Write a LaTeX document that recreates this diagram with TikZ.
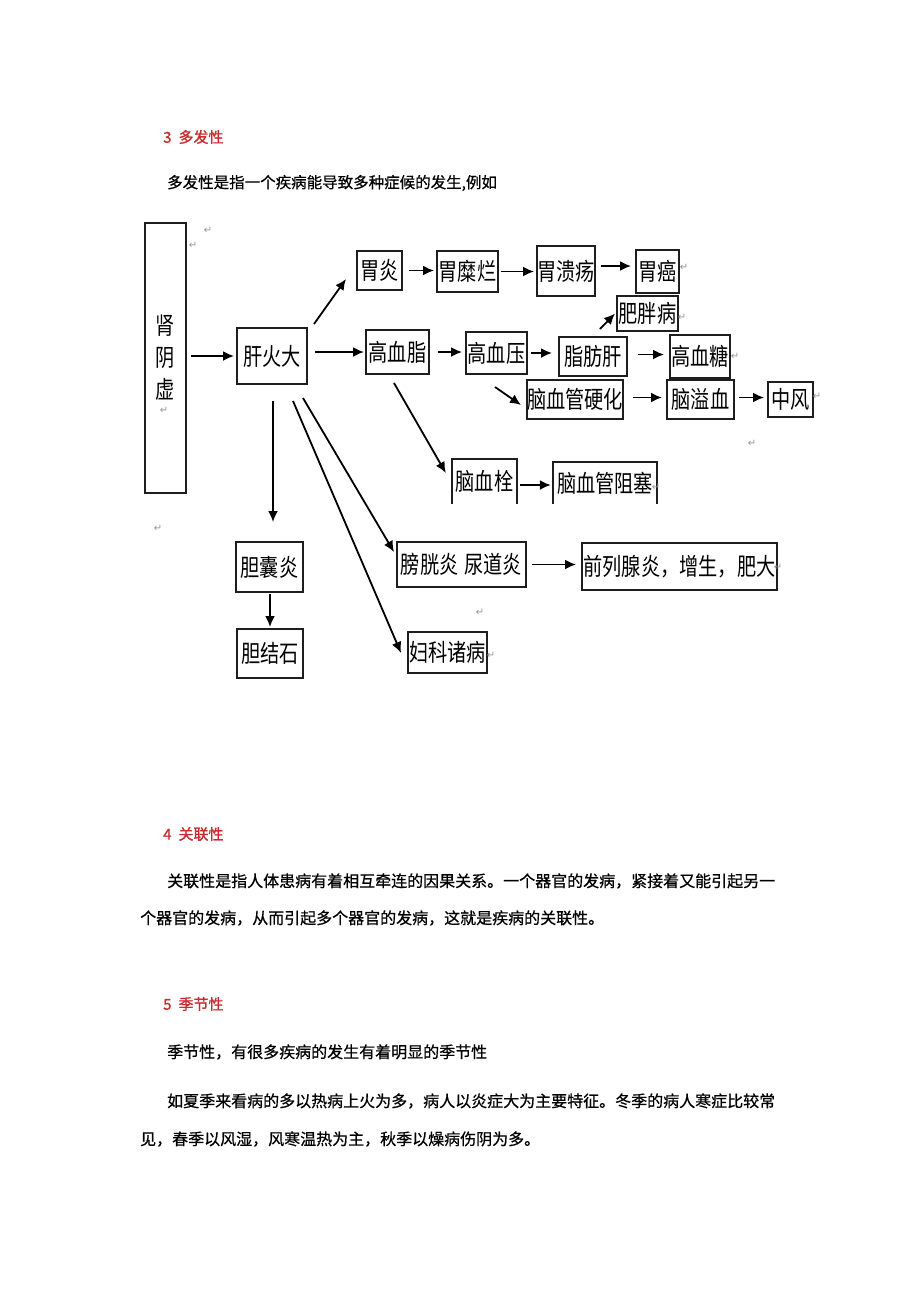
\documentclass[tikz,border=0pt]{standalone}
\usepackage{fontspec}
\setmainfont{Noto Sans CJK SC}
\newfontfamily\boxfont[FakeStretch=0.8]{Noto Sans CJK SC}
\newfontfamily\bodyfont[FakeBold=0.6]{Noto Sans CJK SC}
\newfontfamily\headfont[FakeBold=1.2]{Noto Sans CJK SC}
\newfontfamily\markfont{DejaVu Sans}
\usetikzlibrary{arrows.meta}
\definecolor{headred}{RGB}{200,45,45}
\definecolor{markgray}{RGB}{150,150,150}
\definecolor{boxline}{RGB}{30,30,30}
\begin{document}
\begin{tikzpicture}[x=1pt,y=-1pt,
 box/.style={draw=boxline, line width=2pt, inner sep=0pt, align=center, font=\boxfont\fontsize{24}{32}\selectfont},
 openbox/.style={inner sep=0pt, align=center, font=\boxfont\fontsize{24}{32}\selectfont},
 edge3/.style={draw=boxline, line width=2pt},
 arr/.style={draw=black, line width=1.8pt, -{Latex[length=11pt,width=10pt]}},
 txt/.style={anchor=west, inner sep=0pt, font=\bodyfont\fontsize{16}{18}\selectfont},
 head/.style={anchor=west, inner sep=0pt, text=headred, font=\headfont\fontsize{15}{18}\selectfont},
 pm/.style={inner sep=0pt, text=markgray, font=\markfont\fontsize{10}{12}\selectfont}]
\fill[white] (0,0) rectangle (920,1302);
\useasboundingbox (0,0) rectangle (920,1302);

% headings and text
\node[head] (h3) at (163,137) {3\hspace{7pt}多发性};
\node[txt, font=\bodyfont\fontsize{15.5}{18}\selectfont] (t3) at (167,183) {多发性是指一个疾病能导致多种症候的发生,例如};

\node[head] (h4) at (163,834) {4\hspace{7pt}关联性};
\node[txt] (t4a) at (167,881) {关联性是指人体患病有着相互牵连的因果关系。一个器官的发病，紧接着又能引起另一};
\node[txt] (t4b) at (140,918) {个器官的发病，从而引起多个器官的发病，这就是疾病的关联性。};

\node[head] (h5) at (163,1004) {5\hspace{7pt}季节性};
\node[txt] (t5a) at (167,1052) {季节性，有很多疾病的发生有着明显的季节性};
\node[txt] (t5b) at (167,1101) {如夏季来看病的多以热病上火为多，病人以炎症大为主要特征。冬季的病人寒症比较常};
\node[txt] (t5c) at (140,1139) {见，春季以风湿，风寒温热为主，秋季以燥病伤阴为多。};

% boxes
\node[box, minimum width=41, minimum height=270] (sx) at (165.5,358) {肾\\阴\\虚};
\node[box, minimum width=70, minimum height=56] (gh) at (272,356) {肝火大};
\node[box, minimum width=45, minimum height=39] (wy) at (379.5,270.5) {胃炎};
\node[box, minimum width=61, minimum height=41] (wml) at (467.5,271.5) {胃糜烂};
\node[box, minimum width=58, minimum height=50] (wky) at (566,271) {胃溃疡};
\node[box, minimum width=43, minimum height=43] (wa) at (657.5,271.5) {胃癌};
\node[box, minimum width=61, minimum height=35] (fpb) at (647.5,313.5) {肥胖病};
\node[box, minimum width=63, minimum height=44] (gxz) at (397.5,352) {高血脂};
\node[box, minimum width=61, minimum height=42] (gxy) at (496.5,353) {高血压};
\node[box, minimum width=68, minimum height=39] (zfg) at (593,356.5) {脂肪肝};
\node[box, minimum width=60, minimum height=43] (gxt) at (700,356.5) {高血糖};
\node[box, minimum width=96, minimum height=39] (ngyh) at (575,399.5) {脑血管硬化};
\node[box, minimum width=67, minimum height=39] (nyx) at (700.5,399.5) {脑溢血};
\node[box, minimum width=45, minimum height=35] (zf) at (790.5,399.5) {中风};
\node[openbox, minimum width=65, minimum height=45] (nxs) at (484.5,481.5) {脑血栓};
\node[openbox, minimum width=104, minimum height=42] (nxgzs) at (605,483) {脑血管阻塞};
\draw[edge3] (nxs.south west) |- (nxs.north east) -- (nxs.south east);
\draw[edge3] (nxgzs.south west) |- (nxgzs.north east) -- (nxgzs.south east);
\node[box, minimum width=129, minimum height=45] (pgy) at (461.5,564.5) {膀胱炎\hspace{6pt}尿道炎};
\node[box, minimum width=195, minimum height=47] (qlx) at (679.5,566.5) {前列腺炎，增生，肥大};
\node[box, minimum width=79, minimum height=41] (fk) at (447.5,652.5) {妇科诸病};
\node[box, minimum width=67, minimum height=50] (dny) at (269.5,567) {胆囊炎};
\node[box, minimum width=66, minimum height=49] (djs) at (270,653.5) {胆结石};

% arrows
\draw[arr, shorten <=4pt, shorten >=2pt] (sx.east |- gh.west) -- (gh.west);
\draw[arr] ([shift={(6,-3)}]gh.north east) -- ([shift={(-10,-12)}]wy.south west);
\draw[arr, shorten <=6pt, shorten >=2pt] (wy.east) -- (wy.east -| wml.west);
\draw[arr, shorten <=2pt, shorten >=2pt] (wml.east) -- (wml.east -| wky.west);
\draw[arr, shorten <=5pt, shorten >=4pt] ([yshift=5pt]wky.east) -- ([yshift=5pt]wky.east -| wa.west);
\draw[arr, shorten <=7pt, shorten >=1pt] (gh.east |- gxz.west) -- (gxz.west);
\draw[arr, shorten <=8pt, shorten >=3pt] (gxz.east) -- (gxz.east -| gxy.west);
\draw[arr, shorten <=3pt, shorten >=6pt] (gxy.east) -- (gxy.east -| zfg.west);
\draw[arr] ([shift={(7,-7)}]zfg.north) -- ([xshift=-1pt]fpb.west);
\draw[arr, shorten <=10pt, shorten >=5pt] ([yshift=2pt]zfg.east) -- ([yshift=2pt]zfg.east -| gxt.west);
\draw[arr] ([shift={(-1.5,12)}]gxy.south) -- ([shift={(-5,5.5)}]ngyh.west);
\draw[arr, shorten <=9pt, shorten >=4pt] ([yshift=2pt]ngyh.east) -- ([yshift=2pt]ngyh.east -| nyx.west);
\draw[arr, shorten <=4pt, shorten >=3pt] ([yshift=2pt]nyx.east) -- ([yshift=2pt]nyx.east -| zf.west);
\draw[arr] ([shift={(-3.5,8)}]gxz.south) -- ([shift={(-6,-8.5)}]nxs.west);
\draw[arr, shorten <=3pt, shorten >=2pt] ([yshift=-3.5pt]nxs.east) -- ([yshift=-3.5pt]nxs.east -| nxgzs.west);
\draw[arr] ([shift={(1,16)}]gh.south) -- ([shift={(3.5,-19)}]dny.north);
\draw[arr, shorten <=1pt, shorten >=1pt] ([xshift=0.5pt]dny.south) -- ([xshift=0.5pt]dny.south |- djs.north);
\draw[arr] ([shift={(-5,13)}]gh.south east) -- ([shift={(-2,-12.5)}]pgy.west);
\draw[arr] ([shift={(21,16)}]gh.south) -- ([shift={(-6,0.5)}]fk.west);
\draw[arr, shorten <=5pt, shorten >=5pt] (pgy.east) -- (pgy.east -| qlx.west);

% paragraph marks
\node[pm] (m1) at (193,245) {↵};
\node[pm] (m2) at (208,230) {↵};
\node[pm] (m3) at (164,410) {↵};
\node[pm] (m4) at (158,528) {↵};
\node[pm] (m5) at (684,267) {↵};
\node[pm] (m6) at (682,317) {↵};
\node[pm] (m7) at (735,356) {↵};
\node[pm] (m8) at (817,396) {↵};
\node[pm] (m9) at (752,443) {↵};
\node[pm] (m10) at (656,487) {↵};
\node[pm] (m11) at (778,567) {↵};
\node[pm] (m12) at (480,612) {↵};
\node[pm] (m13) at (491,655) {↵};
\end{tikzpicture}
\end{document}
